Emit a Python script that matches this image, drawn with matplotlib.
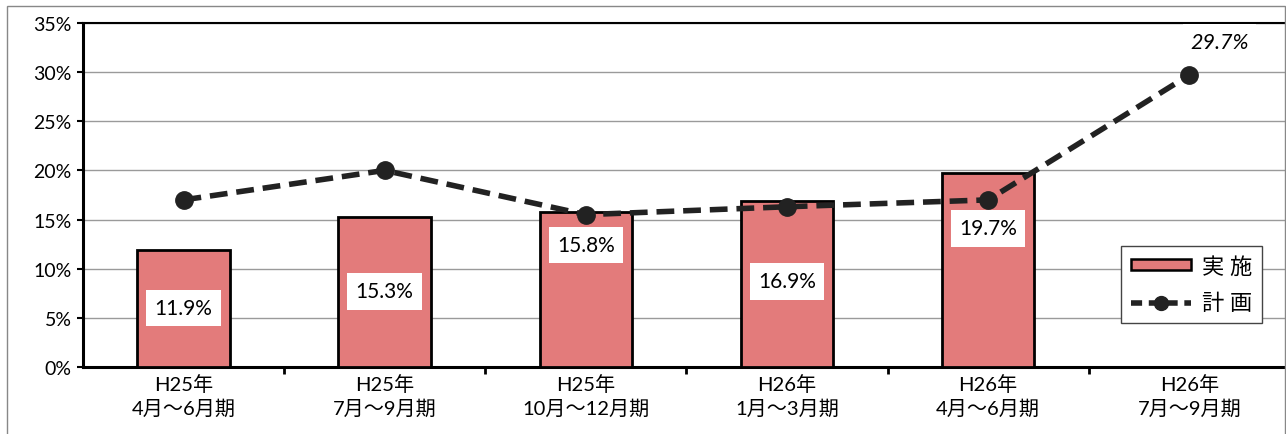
import matplotlib
matplotlib.use("Agg")
import matplotlib.pyplot as plt
from matplotlib.patches import Rectangle
from matplotlib.lines import Line2D
from matplotlib.patches import Patch

plt.rcParams['font.family'] = ['Lato', 'Noto Sans CJK JP', 'DejaVu Sans']

categories = ["H25年\n4月～6月期", "H25年\n7月～9月期", "H25年\n10月～12月期",
              "H26年\n1月～3月期", "H26年\n4月～6月期", "H26年\n7月～9月期"]
actual = [11.9, 15.3, 15.8, 16.9, 19.7]
plan = [17.0, 20.0, 15.5, 16.3, 17.0, 29.7]
actual_labels = ["11.9%", "15.3%", "15.8%", "16.9%", "19.7%"]
plan_last_label = "29.7%"
label_y = [6.0, 7.7, 12.4, 8.7, 14.1]

fig = plt.figure(figsize=(12.86, 4.35), dpi=100)
ax = fig.add_axes([0.0645, 0.154, 0.9385, 0.791])

x = list(range(len(categories)))
ax.bar(x[:len(actual)], actual, width=0.46, color='#E37B7B', edgecolor='black',
       linewidth=2, zorder=3)
ax.plot(x, plan, color='#222222', linestyle=(0, (3.2, 1.6)), linewidth=4,
        marker='o', markersize=12.5, zorder=4)

for i, (lab, yy) in enumerate(zip(actual_labels, label_y)):
    ax.text(i, yy, lab, ha='center', va='center', fontsize=15, zorder=5,
            bbox=dict(boxstyle='square,pad=0.4', facecolor='white', edgecolor='none'))

ax.text(5.15, 33.1, plan_last_label, ha='center', va='center', fontsize=15.5,
        style='italic', zorder=6, clip_on=False,
        bbox=dict(boxstyle='square,pad=0.35', facecolor='white', edgecolor='none'))

ax.set_xlim(-0.5, 5.5)
ax.set_ylim(0, 35)
ax.set_yticks([0, 5, 10, 15, 20, 25, 30, 35])
ax.set_yticklabels([f"{v}%" for v in [0, 5, 10, 15, 20, 25, 30, 35]], fontsize=14)
ax.set_xticks(x)
ax.set_xticklabels(categories, fontsize=14.5, linespacing=1.35)
ax.set_xticks([i + 0.5 for i in range(5)], minor=True)
ax.tick_params(axis='x', which='major', length=0, pad=5)
ax.tick_params(axis='x', which='minor', length=5, width=2, direction='out')
ax.tick_params(axis='y', length=4, width=1.5, direction='out', pad=4)
ax.yaxis.grid(True, color='#9a9a9a', linewidth=1)
ax.set_axisbelow(True)
for s in ['left', 'bottom']:
    ax.spines[s].set_linewidth(2.2)
ax.spines['top'].set_linewidth(1.5)
ax.spines['right'].set_visible(False)

handles = [Patch(facecolor='#E37B7B', edgecolor='black', linewidth=1.8),
           Line2D([0], [0], color='#222222', linestyle=(0, (2, 1.2)), linewidth=4,
                  marker='o', markersize=10)]
leg = ax.legend(handles, ['実 施', '計 画'], loc='upper left',
                bbox_to_anchor=(0.8505, 0.385), fontsize=16, frameon=True,
                fancybox=False, edgecolor='#444444', framealpha=1,
                handlelength=2.7, handleheight=0.4, borderpad=0.45, labelspacing=0.75,
                handletextpad=0.5)
leg.get_frame().set_linewidth(1)

fig.patches.append(Rectangle((7 / 1286, -0.05), 1278 / 1286, 1 - 7 / 435 + 0.05,
                             transform=fig.transFigure, fill=False,
                             edgecolor='#888888', linewidth=1))

fig.savefig('out.png', dpi=100)
